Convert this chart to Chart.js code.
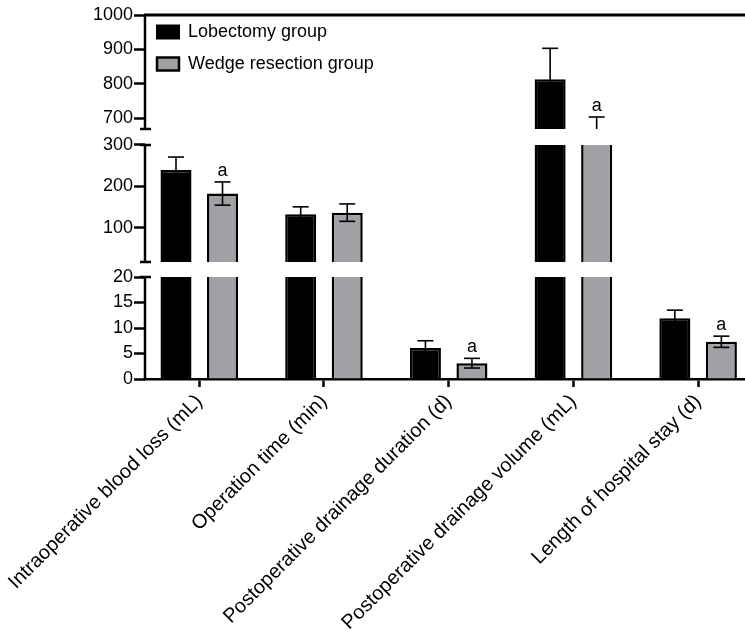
<!DOCTYPE html>
<html>
<head>
<meta charset="utf-8">
<script src="https://cdn.jsdelivr.net/npm/chart.js@4.4.1/dist/chart.umd.min.js"></script>
<style>
  html, body { margin: 0; padding: 0; background: #fff; overflow: hidden; }
  #wrap { width: 745px; height: 634px; }
</style>
</head>
<body>
<div id="wrap"><canvas id="chart"></canvas></div>
<script>
// data (mean and SD)
const categories = [
    'Intraoperative blood loss (mL)',
    'Operation time (min)',
    'Postoperative drainage duration (d)',
    'Postoperative drainage volume (mL)',
    'Length of hospital stay (d)'
];
const lobectomyMean = [240, 133, 6.1, 813, 11.9];
const lobectomySD = [31, 18, 1.4, 90, 1.6];
const wedgeMean = [183, 137, 3.1, 620, 7.3];
const wedgeSD = [28, 21, 0.95, 83, 1.1];
const wedgeMarks = ['a', '', 'a', 'a', 'a'];

// broken y axis: three segments, bottom to top
const segmentIds = ['yLow', 'yMid', 'yHigh'];
const segmentRanges = [[0, 20], [18, 300], [668, 1000]];
const segmentTicks = [[0, 5, 10, 15, 20], [100, 200, 300], [700, 800, 900, 1000]];

// layout (pixels)
const segmentPx = [102, 117, 114];
const gapPx = [15, 16, 0];
const GRAY = '#a1a0a5';
const FONT = "'Liberation Sans', Arial, sans-serif";

Chart.defaults.font.family = FONT;
Chart.defaults.color = '#000';

function pieces(values, k) {
    const [lo, hi] = segmentRanges[k];
    const out = [];
    values.forEach((v, i) => {
        if (v > lo) out.push({x: i, y: [lo, Math.min(v, hi)]});
    });
    return out;
}

function makeDatasets(label, values, stack, fill) {
    return segmentIds.map((id, k) => ({
        label: label,
        stack: stack,
        yAxisID: id,
        data: pieces(values, k),
        backgroundColor: fill,
        borderColor: '#000',
        borderSkipped: false,
        borderWidth: (ctx) => {
            const v = values[ctx.raw ? ctx.raw.x : 0];
            const top = v <= segmentRanges[k][1] ? 2.5 : 0;
            return {left: 2.5, right: 2.5, top: top, bottom: 0};
        },
        categoryPercentage: 0.746,
        barPercentage: 0.667
    }));
}

const datasets = [
    ...makeDatasets('Lobectomy group', lobectomyMean, 'lob', '#000'),
    ...makeDatasets('Wedge resection group', wedgeMean, 'wedge', GRAY)
];

const yScales = {};
segmentIds.forEach((id, k) => {
    const [lo, hi] = segmentRanges[k];
    const perPx = (hi - lo) / segmentPx[k];
    yScales[id] = {
        type: 'linear',
        position: 'left',
        stack: 'y',
        stackWeight: segmentPx[k] + gapPx[k],
        stacked: false,
        min: lo,
        max: hi + gapPx[k] * perPx,
        afterBuildTicks: (s) => { s.ticks = segmentTicks[k].map(v => ({value: v})); },
        afterFit: (s) => { s.width = 145; },
        border: {display: false},
        grid: {drawOnChartArea: false, drawTicks: true, tickLength: 11, tickWidth: 2.5, tickColor: '#000'},
        ticks: {font: {size: 18}, color: '#000', padding: 1, callback: (v) => String(v)}
    };
});

const xScale = {
    type: 'linear',
    offset: false,
    min: -0.435,
    max: 4.376,
    afterBuildTicks: (s) => { s.ticks = categories.map((c, i) => ({value: i})); },
    afterFit: (s) => { s.height = 255; s.paddingLeft = 0; s.paddingRight = 0; },
    border: {display: true, color: '#000', width: 2.5},
    grid: {offset: false, drawOnChartArea: false, drawTicks: true, tickLength: 8, tickWidth: 2.5, tickColor: '#000'},
    ticks: {
        autoSkip: false,
        maxRotation: 45,
        minRotation: 45,
        padding: 3,
        font: {size: 20},
        color: '#000',
        callback: (v, i) => categories[i]
    }
};

// axis segments with end caps, top frame line, error bars and significance marks
const brokenAxis = {
    id: 'brokenAxis',
    afterLayout(chart) {
        // legend sits inside the plot, just below the top line
        chart.legend.top = chart.chartArea.top - 6;
        chart.legend.left -= 2;
    },
    afterDatasetsDraw(chart) {
        const ctx = chart.ctx;
        const area = chart.chartArea;
        ctx.save();
        ctx.strokeStyle = '#000';
        ctx.lineCap = 'butt';

        // error bars
        const drawErr = (means, sds, firstDs) => {
            const meta = chart.getDatasetMeta(firstDs);
            means.forEach((m, i) => {
                const bar = meta.data[i];
                if (!bar) return;
                const x = bar.x;
                const lo = m - sds[i], hi = m + sds[i];
                ctx.lineWidth = 1.6;
                segmentIds.forEach((id, k) => {
                    const s = chart.scales[id];
                    const [a, b] = segmentRanges[k];
                    const from = Math.max(lo, a), to = Math.min(hi, b);
                    if (from >= to) return;
                    ctx.beginPath();
                    ctx.moveTo(x, s.getPixelForValue(from));
                    ctx.lineTo(x, s.getPixelForValue(to));
                    ctx.stroke();
                    [lo, hi].forEach(v => {
                        if (v >= a && v <= b) {
                            const y = s.getPixelForValue(v);
                            ctx.beginPath();
                            ctx.moveTo(x - 8, y);
                            ctx.lineTo(x + 8, y);
                            ctx.stroke();
                        }
                    });
                });
            });
        };
        drawErr(lobectomyMean, lobectomySD, 0);
        drawErr(wedgeMean, wedgeSD, 3);

        // "a" marks above the wedge error bars
        const wMeta = chart.getDatasetMeta(3);
        ctx.fillStyle = '#000';
        ctx.font = '18px ' + FONT;
        ctx.textAlign = 'center';
        ctx.textBaseline = 'bottom';
        wedgeMarks.forEach((t, i) => {
            if (!t) return;
            const hi = wedgeMean[i] + wedgeSD[i];
            const k = segmentRanges.findIndex(r => hi >= r[0] && hi <= r[1]);
            const y = chart.scales[segmentIds[k]].getPixelForValue(hi);
            ctx.fillText(t, wMeta.data[i].x, y - 2);
        });

        // y axis segments
        ctx.lineWidth = 2.5;
        const xAxis = area.left;
        segmentIds.forEach((id, k) => {
            const s = chart.scales[id];
            const [a, b] = segmentRanges[k];
            const y0 = s.getPixelForValue(a), y1 = s.getPixelForValue(b);
            ctx.beginPath();
            ctx.moveTo(xAxis, y0);
            ctx.lineTo(xAxis, y1);
            ctx.stroke();
            const caps = [];
            if (k > 0) caps.push(y0);
            if (k < segmentIds.length - 1) caps.push(y1);
            caps.forEach(y => {
                ctx.beginPath();
                ctx.moveTo(xAxis - 5, y);
                ctx.lineTo(xAxis + 6, y);
                ctx.stroke();
            });
        });

        // top frame line
        const top = chart.scales.yHigh.getPixelForValue(1000);
        ctx.lineWidth = 3;
        ctx.beginPath();
        ctx.moveTo(xAxis - 1, top);
        ctx.lineTo(area.right, top);
        ctx.stroke();
        ctx.restore();
    }
};

new Chart(document.getElementById('chart'), {
    type: 'bar',
    data: {datasets: datasets},
    options: {
        responsive: true,
        maintainAspectRatio: false,
        animation: false,
        layout: {padding: {top: 15, left: 0, right: 0, bottom: 0}},
        scales: Object.assign({x: xScale}, yScales),
        plugins: {
            legend: {
                position: 'chartArea',
                align: 'start',
                onClick: null,
                labels: {
                    font: {size: 18},
                    color: '#000',
                    boxWidth: 22,
                    boxHeight: 13,
                    padding: 14,
                    generateLabels: () => [
                        {text: 'Lobectomy group', fillStyle: '#000', strokeStyle: '#000', lineWidth: 2, hidden: false, datasetIndex: 0},
                        {text: 'Wedge resection group', fillStyle: GRAY, strokeStyle: '#000', lineWidth: 2.5, hidden: false, datasetIndex: 3}
                    ]
                }
            },
            tooltip: {enabled: false}
        }
    },
    plugins: [brokenAxis]
});
</script>
</body>
</html>
